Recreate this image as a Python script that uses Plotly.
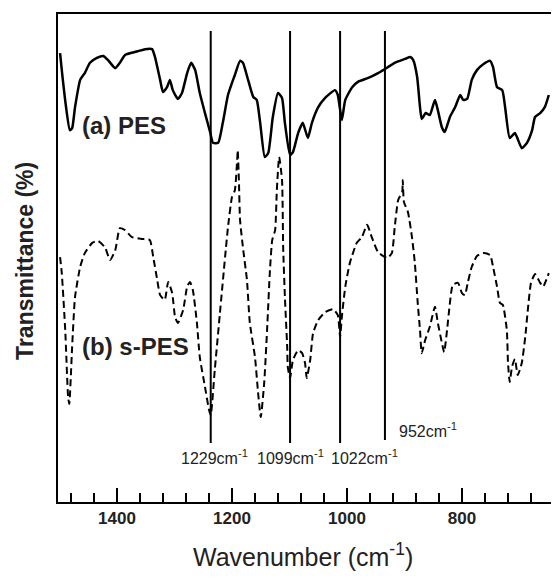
import plotly.graph_objects as go

# (a) PES spectrum: wavenumber (cm-1) and transmittance (arb. %)
pes_wn = [1499, 1496, 1489, 1482, 1478, 1473, 1464, 1456, 1447, 1435, 1424, 1416, 1403, 1395,
          1386, 1369, 1351, 1339, 1334, 1325, 1320, 1313, 1308, 1303, 1294, 1287, 1278, 1271,
          1264, 1256, 1247, 1238, 1233, 1224, 1216, 1207, 1200, 1195, 1186, 1181, 1172, 1163,
          1157, 1151, 1143, 1137, 1129, 1120, 1113, 1108, 1099, 1094, 1085, 1077, 1068, 1061,
          1050, 1038, 1021, 1016, 1009, 1003, 991, 981, 963, 946, 929, 917, 899, 890, 885,
          878, 873, 870, 863, 856, 847, 842, 835, 830, 821, 812, 803, 798, 791, 783, 774, 763,
          751, 746, 739, 730, 725, 717, 708, 696, 687, 678, 673, 664, 656, 649]
pes_t = [92.0, 88.5, 81.3, 76.2, 76.6, 80.9, 86.5, 87.9, 90.0, 91.0, 91.4, 90.6, 88.9, 90.0,
         91.6, 92.2, 92.8, 92.8, 91.2, 86.5, 84.0, 85.0, 86.5, 84.4, 82.6, 83.8, 87.9, 90.0,
         88.5, 83.8, 79.7, 75.8, 73.6, 73.6, 77.7, 83.4, 85.9, 87.5, 90.4, 90.0, 86.5, 83.0,
         82.4, 77.7, 70.7, 71.5, 78.9, 83.8, 82.8, 77.7, 71.1, 71.7, 75.6, 77.7, 74.6, 77.7,
         80.9, 82.8, 84.4, 83.4, 78.3, 82.4, 85.0, 86.1, 86.9, 87.9, 89.1, 90.0, 90.8, 91.2, 90.6,
         87.1, 80.9, 78.5, 79.7, 79.3, 82.4, 80.3, 76.8, 75.8, 78.9, 80.9, 83.4, 82.4, 82.6, 86.5, 88.5, 89.7,
         90.4, 89.1, 85.0, 84.4, 80.9, 74.6, 75.6, 72.5, 73.6, 76.2, 78.9, 79.7, 80.9, 83.4]

# (b) s-PES spectrum
spes_wn = [1499, 1496, 1490, 1485, 1483, 1478, 1473, 1464, 1456, 1443, 1433, 1421, 1412, 1403,
           1395, 1386, 1374, 1357, 1343, 1337, 1330, 1325, 1317, 1311, 1304, 1299, 1294, 1285,
           1278, 1273, 1268, 1261, 1256, 1247, 1240, 1237, 1230, 1221, 1212, 1207, 1200, 1195,
           1191, 1190, 1188, 1186, 1181, 1174, 1169, 1160, 1155, 1150, 1144, 1139, 1134, 1130,
           1125, 1122, 1118, 1113, 1111, 1108, 1104, 1103, 1099, 1094, 1085, 1078, 1073, 1070,
           1064, 1059, 1050, 1038, 1024, 1016, 1012, 1009, 1003, 995, 983, 974, 965, 957, 946,
           930, 922, 917, 911, 904, 903, 901, 894, 887, 882, 877, 873, 870, 864, 856, 847, 842,
           835, 831, 826, 821, 816, 807, 800, 795, 790, 783, 774, 763, 751, 746, 739, 734, 729,
           722, 720, 717, 713, 708, 703, 696, 690, 685, 680, 673, 664, 659, 649]
spes_t = [50.2, 46.9, 35.2, 21.5, 20.1, 31.8, 42.0, 48.2, 51.0, 53.1, 53.5, 52.2, 49.6, 51.6,
          56.1, 55.7, 54.3, 53.9, 53.7, 50.2, 45.5, 42.4, 41.4, 45.1, 42.8, 37.9, 36.7, 39.3,
          44.1, 45.1, 43.4, 36.7, 29.7, 23.6, 18.9, 17.8, 27.0, 38.7, 50.2, 56.3, 62.5, 63.9,
          70.1, 72.1, 66.0, 57.8, 52.2, 45.5, 36.7, 29.7, 22.9, 17.4, 24.4, 35.2, 47.5, 53.7,
          55.7, 63.9, 70.7, 66.0, 52.2, 42.0, 31.8, 27.7, 25.4, 29.1, 31.1, 30.5, 28.5, 25.4,
          29.1, 34.6, 37.3, 38.9, 39.5, 38.3, 33.8, 37.9, 44.1, 49.0, 53.1, 54.3, 56.8, 54.3, 51.2,
          50.0, 51.0, 56.3, 61.9, 63.5, 66.0, 61.5, 59.4, 54.3, 49.0, 40.8, 35.2, 30.5, 33.2, 35.9, 40.0, 36.7,
          32.6, 30.7, 35.2, 40.8, 44.5, 44.9, 42.8, 42.4, 44.9, 48.2, 50.4, 51.0, 50.6, 48.2, 44.1, 40.8, 40.4,
          35.2, 28.5, 24.6, 27.7, 29.3, 26.0, 28.5, 33.8, 40.0, 44.9, 46.7, 44.9, 44.1, 46.9]

# Marker lines (drawn positions) and their labels
mark_wn = [1237, 1099, 1012, 934]
mark_top = [96.5, 96.5, 96.5, 96.5]
mark_bottom = [12.1, 12.1, 12.1, 12.7]
label_text = ["1229cm<sup>-1</sup>", "1099cm<sup>-1</sup>", "1022cm<sup>-1</sup>", "952cm<sup>-1</sup>"]
label_wn = [1230, 1099, 969, 859]
label_t = [9.2, 9.2, 9.2, 14.8]

x_range = [1502.6, 645.2]
y_range = [0, 100]

FONT = "Liberation Sans, Arial, sans-serif"

fig = go.Figure()
for wn, top, bot in zip(mark_wn, mark_top, mark_bottom):
    fig.add_trace(go.Scatter(x=[wn, wn], y=[top, bot], mode="lines",
                             line=dict(color="black", width=2), showlegend=False, hoverinfo="skip"))
fig.add_trace(go.Scatter(x=pes_wn, y=pes_t, mode="lines",
                         line=dict(color="black", width=2.5, shape="spline", smoothing=0.5),
                         showlegend=False))
fig.add_trace(go.Scatter(x=spes_wn, y=spes_t, mode="lines",
                         line=dict(color="black", width=2, dash="7px,4px", shape="spline", smoothing=0.5),
                         showlegend=False))

for txt, xw, yt in zip(label_text, label_wn, label_t):
    fig.add_annotation(x=xw, y=yt, text=txt, showarrow=False, xanchor="center", yanchor="middle",
                       font=dict(family=FONT, size=16, color="#222"))

fig.add_annotation(x=1464, y=77.2, text="<b>(a) PES</b>", showarrow=False,
                   xanchor="left", yanchor="middle",
                   font=dict(family=FONT, size=24, color="#222"))
fig.add_annotation(x=1464, y=31.8, text="<b>(b) s-PES</b>", showarrow=False,
                   xanchor="left", yanchor="middle",
                   font=dict(family=FONT, size=24, color="#222"))

fig.add_annotation(xref="paper", yref="paper", x=0.497, y=-0.109,
                   xanchor="center", yanchor="middle",
                   text="Wavenumber (cm<sup>-1</sup>)", showarrow=False,
                   font=dict(family=FONT, size=25, color="#222"))
fig.add_annotation(xref="paper", yref="paper", x=-0.067, y=0.494,
                   xanchor="center", yanchor="middle",
                   text="<b>Transmittance (%)</b>", showarrow=False, textangle=-90,
                   font=dict(family=FONT, size=23, color="#222"))

fig.update_layout(
    width=553, height=580,
    margin=dict(l=58, r=2, t=14, b=78),
    paper_bgcolor="white", plot_bgcolor="white",
    xaxis=dict(range=x_range, showgrid=False, zeroline=False,
               showline=True, mirror=True, linecolor="black", linewidth=2,
               ticks="inside", ticklen=14, tickwidth=2, tickcolor="black",
               tick0=1400, dtick=200,
               tickfont=dict(family=FONT, size=17, color="#222", weight="bold"),
               minor=dict(ticks="inside", dtick=40, ticklen=9, tickwidth=2, tickcolor="black")),
    yaxis=dict(range=y_range, showgrid=False, zeroline=False,
               showline=True, linecolor="black", linewidth=2,
               showticklabels=False, ticks=""),
)

fig.write_html("out.html")
